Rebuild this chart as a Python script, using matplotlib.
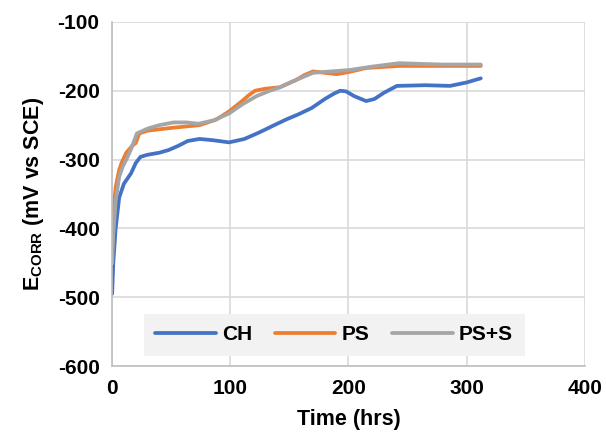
import numpy as np
import matplotlib
matplotlib.use("Agg")
import matplotlib.pyplot as plt

plt.rcParams['font.family'] = ['Liberation Sans', 'DejaVu Sans']
plt.rcParams['font.weight'] = 'bold'
plt.rcParams['axes.unicode_minus'] = False
plt.rcParams['mathtext.fontset'] = 'custom'
plt.rcParams['mathtext.rm'] = 'Liberation Sans:bold'
plt.rcParams['mathtext.bf'] = 'Liberation Sans:bold'

# data
ch_t = [0, 1, 3, 6, 10, 16, 20, 24, 30, 40, 48, 56, 64, 74, 86, 99, 112, 124, 136, 147, 158, 169, 180, 188, 193, 198, 205, 215, 222, 230, 241, 265, 286, 300, 312]
ch_e = [-495, -450, -400, -355, -335, -320, -305, -296, -293, -290, -286, -280, -273, -270, -272, -275, -270, -261, -251, -242, -234, -225, -212, -204, -200, -201, -208, -215, -212, -203, -193, -192, -193, -188, -182]

ps_t = [0, 1, 3, 6, 8, 12, 17, 20, 23, 30, 50, 74, 88, 99, 110, 116, 121, 130, 142, 155, 163, 170, 180, 190, 200, 215, 243, 280, 312]
ps_e = [-407, -380, -340, -315, -305, -290, -280, -276, -262, -258, -254, -250, -242, -230, -215, -206, -200, -197, -195, -185, -177, -172, -174, -176, -173, -167, -164, -164, -164]

pss_t = [0, 1, 3, 6, 9, 12, 16, 21, 30, 40, 52, 63, 73, 86, 99, 110, 122, 132, 142, 152, 159, 170, 185, 201, 220, 243, 260, 280, 312]
pss_e = [-451, -410, -360, -325, -310, -300, -285, -262, -255, -250, -246, -246, -248, -243, -233, -220, -208, -201, -195, -187, -182, -174, -172, -170, -165, -160, -161, -162, -162]

fig = plt.figure(figsize=(6.06, 4.37), dpi=100)
ax = fig.add_axes([0.185, 0.162, 0.78, 0.788])

ax.plot(ch_t, ch_e, color='#4472C4', lw=2.7, label='CH', solid_capstyle='round', solid_joinstyle='round')
ax.plot(ps_t, ps_e, color='#ED7D31', lw=2.7, label='PS', solid_capstyle='round', solid_joinstyle='round')
ax.plot(pss_t, pss_e, color='#A5A5A5', lw=2.7, label='PS+S', solid_capstyle='round', solid_joinstyle='round')

ax.set_xlim(0, 400)
ax.set_ylim(-600, -100)
ax.set_xticks([0, 100, 200, 300, 400])
ax.set_yticks([-600, -500, -400, -300, -200, -100])
ax.grid(True, color='#D9D9D9', lw=1.2)
ax.set_axisbelow(True)
for s in ['top', 'right']:
    ax.spines[s].set_visible(False)
for s in ['left', 'bottom']:
    ax.spines[s].set_color('#BFBFBF')
    ax.spines[s].set_linewidth(1.2)
ax.tick_params(length=0, labelsize=15, pad=9)
for lbl in ax.get_xticklabels() + ax.get_yticklabels():
    lbl.set_fontweight('bold')

ax.set_xlabel('Time (hrs)', fontsize=15.5, fontweight='bold', labelpad=8)
ax.set_ylabel(r'E$_{\mathregular{CORR}}$ (mV vs SCE)', fontsize=15.5, fontweight='bold', labelpad=8)

leg = ax.legend(loc='lower center', bbox_to_anchor=(0.47, 0.0), ncol=3, frameon=True,
                fontsize=15, handlelength=2.9, columnspacing=1.1, handletextpad=0.3,
                borderpad=0.55, fancybox=False)
leg.get_frame().set_facecolor('#F2F2F2')
leg.get_frame().set_edgecolor('none')
leg.get_frame().set_alpha(1)
for t in leg.get_texts():
    t.set_fontweight('bold')

fig.savefig('out.png', dpi=100)
